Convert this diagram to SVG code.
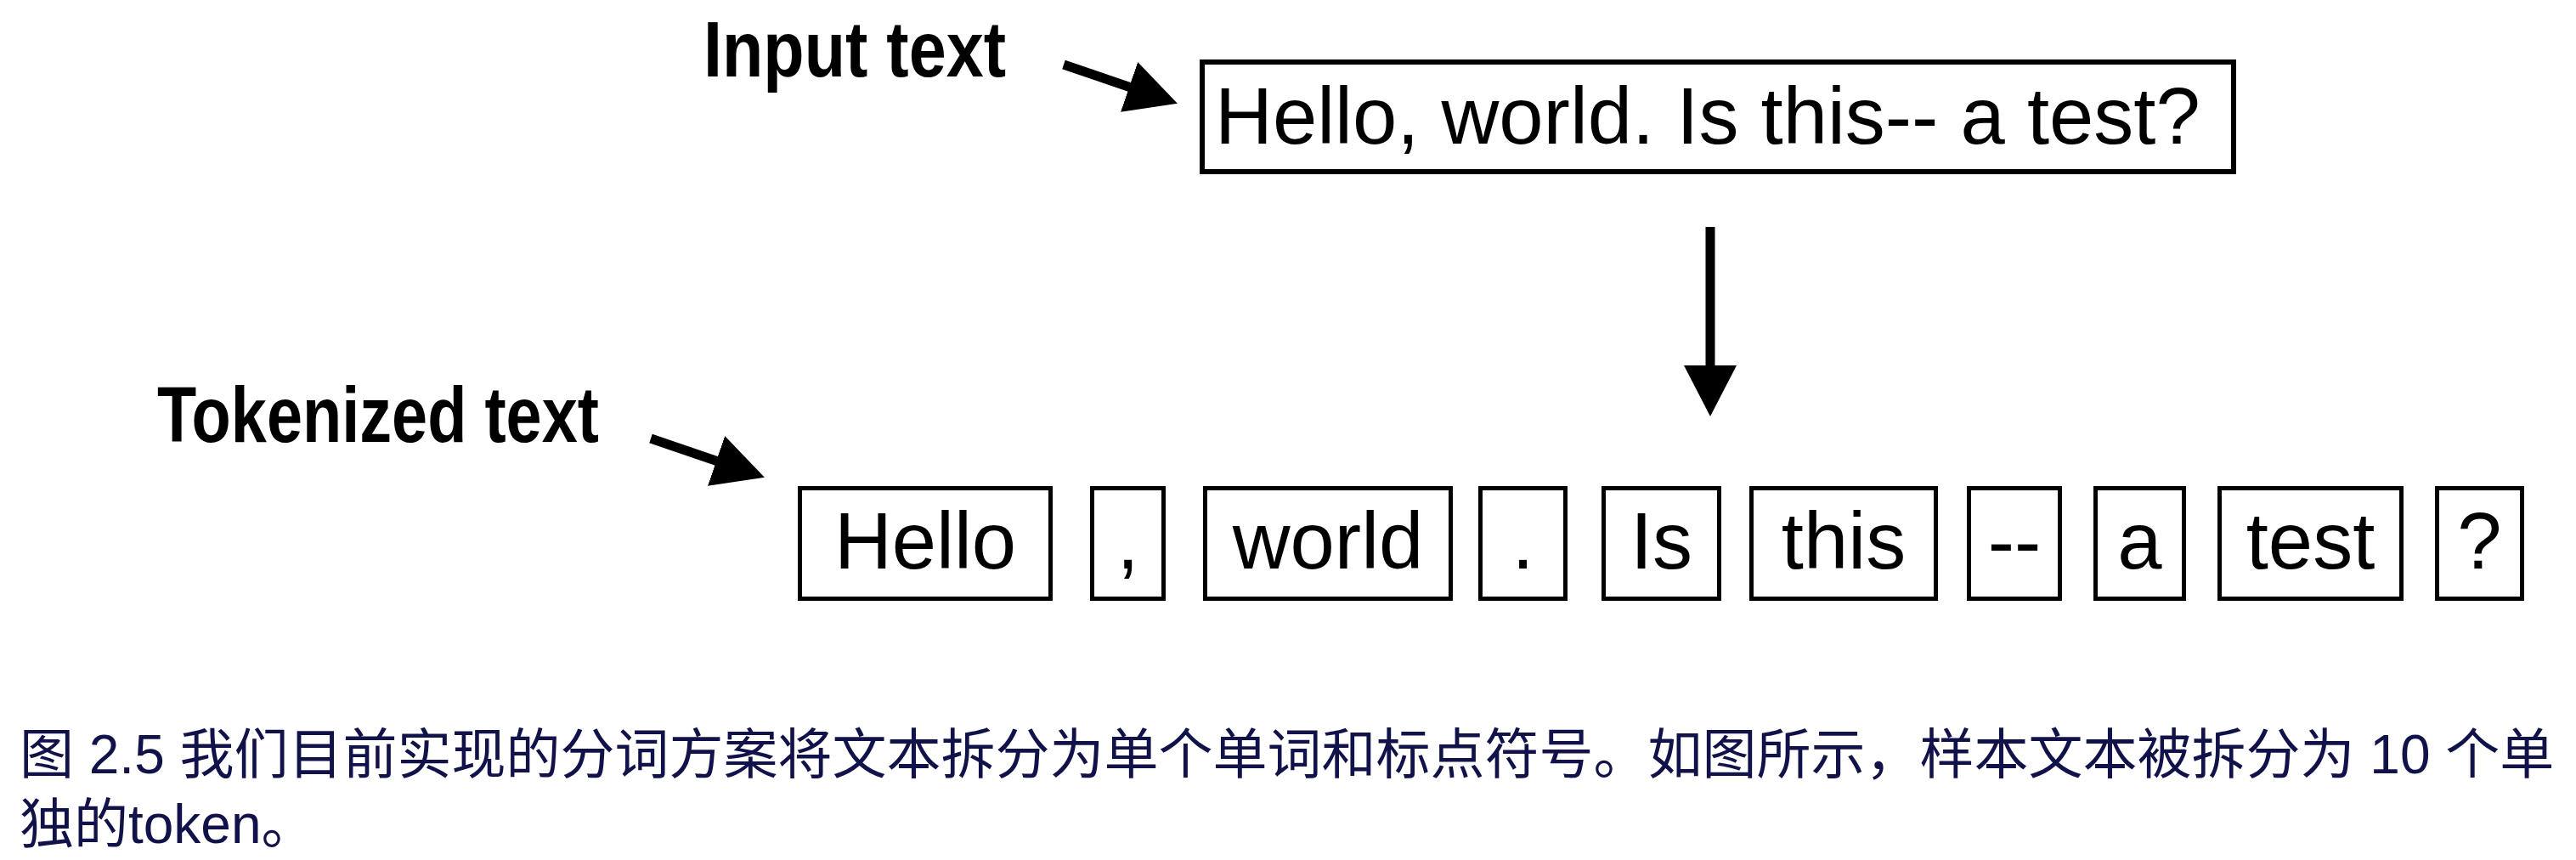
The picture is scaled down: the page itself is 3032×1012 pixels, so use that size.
<svg xmlns="http://www.w3.org/2000/svg" width="3032" height="1012" viewBox="0 0 3032 1012">
<style>
.box{fill:#ffffff;stroke:#000000;stroke-width:5}
.tok{font-family:"Liberation Sans",Arial,sans-serif;font-size:94px;fill:#000000;text-anchor:middle}
.lbl{font-family:"Liberation Sans",Arial,sans-serif;font-weight:700;font-size:93px;fill:#000000}
.arr{stroke:#000000;stroke-width:11;fill:none;marker-end:url(#head)}
.cap{font-family:"Liberation Sans","Noto Sans CJK SC",sans-serif;font-size:64px;fill:#12124a}
</style>
<defs>
<marker id="head" markerUnits="userSpaceOnUse" viewBox="0 0 60 62" refX="2" refY="31" markerWidth="60" markerHeight="62" orient="auto">
<path d="M0,0 L60,31 L0,62 Z" fill="#000000"/>
</marker>
</defs>
<rect width="3032" height="1012" fill="#ffffff"/>
<g id="label-input"><text class="lbl" x="828" y="90" textLength="356" lengthAdjust="spacingAndGlyphs">Input text</text></g>
<g id="label-tokenized"><text class="lbl" x="185" y="520" textLength="520" lengthAdjust="spacingAndGlyphs">Tokenized text</text></g>
<g id="input-box">
<rect x="1415" y="73" width="1214" height="129" fill="#ffffff" stroke="#000000" stroke-width="6"/>
<text x="1430" y="169" font-family="'Liberation Sans',Arial,sans-serif" font-size="94" fill="#000000">Hello, world. Is this-- a test?</text>
</g>
<g id="tokens">
<g id="tok-1"><rect class="box" x="941.5" y="574.5" width="295" height="130"/><text class="tok" x="1089" y="669">Hello</text></g>
<g id="tok-2"><rect class="box" x="1285.5" y="574.5" width="84" height="130"/><text class="tok" x="1327.5" y="669">,</text></g>
<g id="tok-3"><rect class="box" x="1418.5" y="574.5" width="289" height="130"/><text class="tok" x="1563" y="669">world</text></g>
<g id="tok-4"><rect class="box" x="1742.5" y="574.5" width="100" height="130"/><text class="tok" x="1792.5" y="669">.</text></g>
<g id="tok-5"><rect class="box" x="1887.5" y="574.5" width="136" height="130"/><text class="tok" x="1955.5" y="669">Is</text></g>
<g id="tok-6"><rect class="box" x="2061.5" y="574.5" width="217" height="130"/><text class="tok" x="2170" y="669">this</text></g>
<g id="tok-7"><rect class="box" x="2317.5" y="574.5" width="107" height="130"/><text class="tok" x="2371" y="669">--</text></g>
<g id="tok-8"><rect class="box" x="2466.5" y="574.5" width="104" height="130"/><text class="tok" x="2518.5" y="669">a</text></g>
<g id="tok-9"><rect class="box" x="2612.5" y="574.5" width="214" height="130"/><text class="tok" x="2719.5" y="669">test</text></g>
<g id="tok-10"><rect class="box" x="2868.5" y="574.5" width="100" height="130"/><text class="tok" x="2918.5" y="669">?</text></g>
</g>
<g id="connectors">
<path class="arr" d="M1252,76 L1331,103"/>
<path class="arr" d="M766,516 L845,543"/>
<path class="arr" d="M2013,267 L2013,432"/>
</g>
<g id="caption">
<text class="cap" x="23" y="910">图 2.5 我们目前实现的分词方案将文本拆分为单个单词和标点符号。如图所示，样本文本被拆分为 10 个单</text>
<text class="cap" x="23" y="992">独的token。</text>
</g>
</svg>
